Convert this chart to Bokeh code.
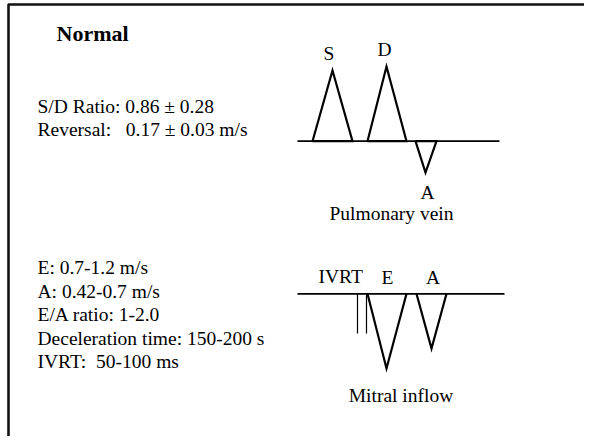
from bokeh.plotting import figure
from bokeh.models import Range1d
from bokeh.core.properties import value
from bokeh.embed import file_html
from bokeh.resources import INLINE

NB = "\u00a0"
FONT = "Liberation Serif"

# ---- Pulmonary vein schematic (diagram coordinates) ----
pv_labels = ["S", "D", "A"]
pv_start = [312, 367, 415]
pv_apex = [332, 386, 425]
pv_end = [352, 406, 436]
pv_peak = [70, 66, 172]
pv_baseline = 140.7
pv_line_x = [297, 499]
pv_label_x = [328.5, 384, 427]
pv_label_y = [53, 49, 192]

# ---- Mitral inflow schematic ----
mv_labels = ["E", "A"]
mv_start = [367, 416]
mv_apex = [386, 431]
mv_end = [406, 446]
mv_peak = [368, 348]
mv_baseline = 293.3
mv_line_x = [297, 504]
ivrt_x = [357, 366]
ivrt_bottom = 333
mv_label_x = [387, 432.5]
mv_label_y = [277, 277]

# ---- Text blocks ----
pv_text = ["S/D Ratio: 0.86 \u00b1 0.28",
           "Reversal:" + NB * 3 + "0.17 \u00b1 0.03 m/s"]
pv_text_y = [106, 129]
mv_text = ["E: 0.7-1.2 m/s",
           "A: 0.42-0.7 m/s",
           "E/A ratio: 1-2.0",
           "Deceleration time: 150-200 s",
           "IVRT:" + NB * 2 + "50-100 ms"]
mv_text_y = [267, 290.5, 314, 337.5, 361]

p = figure(width=584, height=436, x_range=Range1d(0, 584), y_range=Range1d(436, 0),
           output_backend="svg", toolbar_location=None, min_border=0,
           x_axis_location=None, y_axis_location=None)
p.grid.visible = False
p.outline_line_color = None
p.background_fill_color = "white"
p.border_fill_color = "white"

# frame
p.line(x=[8, 8, 584], y=[436, 4, 4], line_color="#111111", line_width=2.6)

# baselines
p.line(x=pv_line_x, y=[pv_baseline] * 2, line_color="black", line_width=1.8)
p.line(x=mv_line_x, y=[mv_baseline] * 2, line_color="black", line_width=1.8)

# pulmonary vein waves
p.multi_line(xs=[[s, a, e, s] for s, a, e in zip(pv_start, pv_apex, pv_end)],
             ys=[[pv_baseline, pk, pv_baseline, pv_baseline] for pk in pv_peak],
             line_color="black", line_width=2.2, line_join="miter")

# mitral waves
p.multi_line(xs=[[s, a, e] for s, a, e in zip(mv_start, mv_apex, mv_end)],
             ys=[[mv_baseline, pk, mv_baseline] for pk in mv_peak],
             line_color="black", line_width=2.2, line_join="miter")

# IVRT markers
p.segment(x0=ivrt_x, y0=[mv_baseline] * 2, x1=ivrt_x, y1=[ivrt_bottom] * 2,
          line_color="black", line_width=1.2)

common = dict(text_font=value(FONT), text_color="black", text_baseline="alphabetic")

p.text(x=[56], y=[33], text=["Normal"], text_font_size="22px",
       text_font_style="bold", text_align="left", **common)
p.text(x=[37] * len(pv_text), y=pv_text_y, text=pv_text, text_font_size="19.5px",
       text_align="left", **common)
p.text(x=[37] * len(mv_text), y=mv_text_y, text=mv_text, text_font_size="19.5px",
       text_align="left", **common)

p.text(x=pv_label_x, y=pv_label_y, text=pv_labels, text_font_size="19.5px",
       text_align="center", **common)
p.text(x=[391], y=[213], text=["Pulmonary vein"], text_font_size="19.5px",
       text_align="center", **common)

p.text(x=[318], y=[276], text=["IVRT"], text_font_size="19.5px",
       text_align="left", **common)
p.text(x=mv_label_x, y=mv_label_y, text=mv_labels, text_font_size="19.5px",
       text_align="center", **common)
p.text(x=[400.5], y=[395], text=["Mitral inflow"], text_font_size="19.5px",
       text_align="center", **common)

open("out.html", "w").write(file_html(p, INLINE))
